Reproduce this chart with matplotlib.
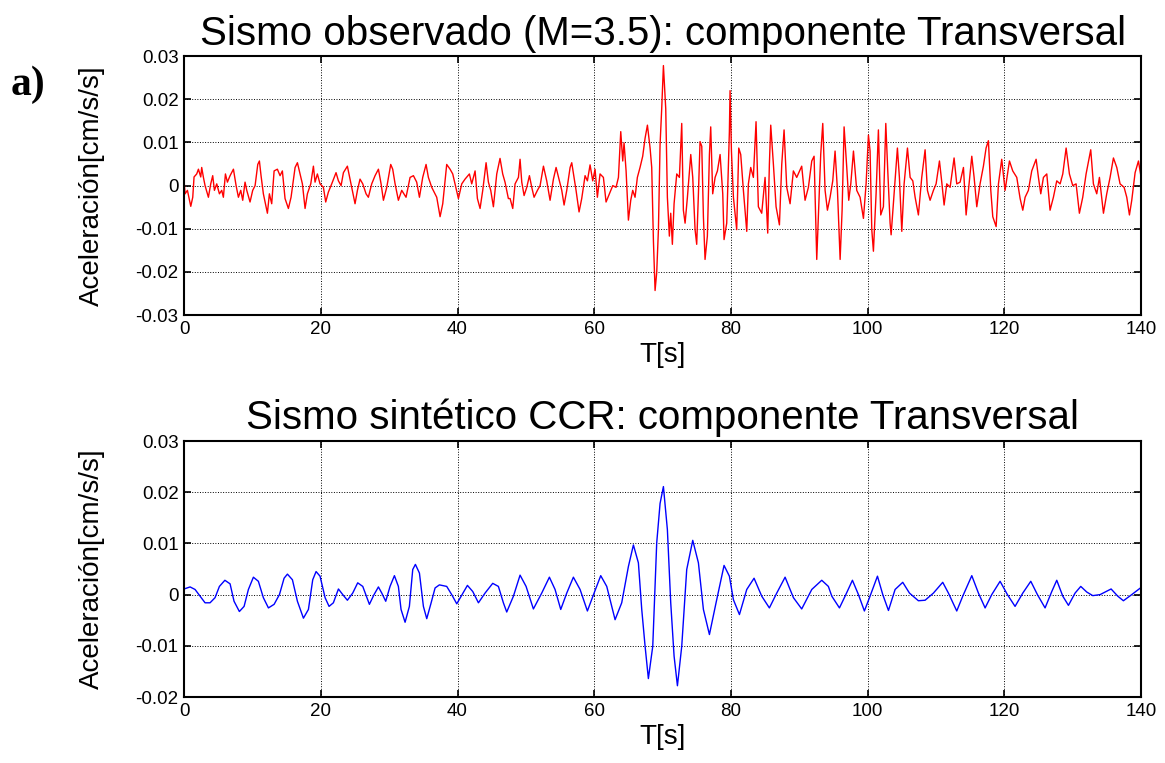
import matplotlib
matplotlib.use("Agg")
import matplotlib.pyplot as plt

# sismo observado (componente transversal)
t_obs = [0.0, 0.15, 0.49, 0.98, 1.27, 1.46, 1.85, 2.10, 2.44, 2.58, 2.83, 3.07, 3.56, 3.90, 4.19, 4.44, 4.78,
         5.17, 5.51, 5.75, 6.05, 6.34, 6.73, 7.22, 7.61, 7.95, 8.29, 8.58, 8.92, 9.17, 9.65, 10.04, 10.39,
         10.78, 11.02, 11.26, 11.60, 12.19, 12.48, 12.82, 13.17, 13.65, 14.04, 14.38, 14.77, 15.26, 15.65,
         16.24, 16.58, 16.97, 17.31, 17.70, 18.04, 18.53, 18.92, 19.16, 19.50, 19.89, 20.38, 20.72, 21.11,
         21.60, 22.23, 22.58, 22.97, 23.31, 23.89, 24.28, 24.67, 25.01, 25.36, 25.74, 26.14, 26.62, 26.96,
         27.45, 27.94, 28.43, 28.82, 29.16, 29.65, 30.23, 30.52, 30.87, 31.35, 31.84, 32.47, 33.06, 33.55,
         34.03, 34.43, 34.91, 35.40, 35.74, 36.23, 36.96, 37.45, 37.84, 38.42, 38.91, 39.30, 39.64, 40.13,
         40.62, 41.10, 41.74, 42.08, 42.57, 42.91, 43.30, 43.69, 44.18, 44.52, 44.86, 45.25, 45.74, 46.22,
         46.61, 46.95, 47.44, 47.69, 48.08, 48.42, 48.91, 49.15, 49.40, 49.74, 50.13, 50.52, 50.86, 51.20,
         51.69, 52.08, 52.57, 53.05, 53.54, 54.03, 54.42, 54.91, 55.25, 55.59, 55.98, 56.47, 56.71, 57.05,
         57.34, 57.78, 58.17, 58.66, 59.00, 59.39, 59.78, 60.12, 60.46, 60.85, 61.34, 61.73, 62.22, 62.71,
         63.19, 63.54, 63.88, 64.17, 64.36, 64.66, 65.00, 65.34, 65.63, 65.97, 66.31, 66.70, 67.09, 67.44,
         67.78, 68.17, 68.41, 68.66, 68.90, 69.14, 69.39, 69.63, 69.87, 70.12, 70.46, 70.70, 70.99, 71.19,
         71.43, 71.68, 72.07, 72.46, 72.80, 73.04, 73.29, 73.63, 74.12, 74.41, 74.75, 74.99, 75.24, 75.48,
         75.73, 75.97, 76.21, 76.55, 76.85, 77.04, 77.33, 77.68, 78.02, 78.41, 78.80, 78.99, 79.38, 79.77,
         79.87, 80.07, 80.36, 80.84, 81.14, 81.43, 81.82, 82.31, 82.55, 82.89, 83.28, 83.67, 84.01, 84.50,
         84.99, 85.38, 85.62, 85.82, 86.21, 86.60, 87.09, 87.43, 87.77, 88.16, 88.65, 89.13, 89.62, 90.35,
         90.84, 91.33, 91.82, 92.16, 92.55, 92.79, 93.13, 93.43, 93.77, 94.11, 94.50, 94.89, 95.23, 95.58,
         95.97, 96.26, 96.55, 96.94, 97.23, 97.53, 97.92, 98.40, 98.89, 99.38, 99.77, 100.11, 100.35, 100.60,
         100.84, 101.23, 101.57, 101.91, 102.30, 102.65, 102.94, 103.28, 103.43, 103.86, 104.35, 104.64,
         104.99, 105.33, 105.82, 106.21, 106.60, 106.94, 107.42, 107.91, 108.40, 108.74, 109.13, 109.62,
         110.01, 110.50, 110.84, 111.18, 111.57, 112.06, 112.64, 113.03, 113.52, 114.01, 114.40, 114.74,
         115.23, 115.57, 115.96, 116.44, 116.93, 117.32, 117.66, 118.01, 118.30, 118.79, 119.13, 119.61,
         120.10, 120.74, 121.22, 121.81, 122.30, 122.69, 123.03, 123.51, 124.00, 124.64, 124.98, 125.32,
         125.71, 126.20, 126.68, 127.17, 127.66, 128.15, 128.54, 129.03, 129.51, 130.00, 130.49, 130.97,
         131.46, 131.95, 132.63, 133.02, 133.51, 133.90, 134.49, 134.97, 135.46, 135.95, 136.44, 136.92,
         137.51, 137.90, 138.29, 138.63, 139.12, 139.61, 140.0]
a_obs = [0.0011, -0.0019, -0.0011, -0.0048, -0.0027, 0.0020, 0.0027, 0.0038, 0.0020, 0.0042, 0.0019, 0.0, -0.0027,
         0.0004, 0.0023, -0.0011, 0.0004, -0.0019, -0.0011, -0.0027, 0.0027, 0.0008, 0.0023, 0.0038, 0.0,
         -0.0027, -0.0011, -0.0034, 0.0008, -0.0011, -0.0038, -0.0011, 0.0, 0.0049, 0.0057, 0.0023, -0.0019,
         -0.0064, -0.0019, -0.0042, 0.0034, 0.0038, 0.0023, 0.0034, -0.0030, -0.0053, -0.0027, 0.0042, 0.0053,
         0.0027, 0.0004, -0.0053, -0.0019, 0.0004, 0.0045, 0.0008, 0.0027, 0.0004, -0.0004, -0.0038, -0.0015,
         0.0004, 0.0030, 0.0011, 0.0, 0.0030, 0.0045, 0.0015, -0.0015, -0.0042, -0.0011, 0.0015, 0.0004,
         -0.0019, -0.0027, 0.0004, 0.0023, 0.0038, 0.0004, -0.0034, -0.0004, 0.0049, 0.0038, 0.0004, -0.0034,
         -0.0011, -0.0027, 0.0019, 0.0023, 0.0008, -0.0027, 0.0019, 0.0049, 0.0019, -0.0004, -0.0027, -0.0072,
         -0.0042, 0.0049, 0.0038, 0.0027, 0.0004, -0.0030, 0.0004, 0.0015, 0.0027, 0.0004, 0.0034, -0.0030,
         -0.0053, -0.0011, 0.0053, 0.0008, -0.0011, -0.0049, 0.0027, 0.0063, 0.0027, 0.0008, -0.0030, -0.0030,
         -0.0053, 0.0004, 0.0019, 0.0061, 0.0008, -0.0023, -0.0004, 0.0023, -0.0004, -0.0027, -0.0011, 0.0,
         0.0045, 0.0011, -0.0034, 0.0015, 0.0042, 0.0011, -0.0011, -0.0045, -0.0011, 0.0042, 0.0053, 0.0019,
         -0.0011, -0.0061, -0.0030, 0.0023, 0.0011, 0.0048, 0.0011, 0.0038, -0.0027, 0.0027, 0.0019, -0.0038,
         -0.0019, 0.0, -0.0004, 0.0019, 0.0125, 0.0057, 0.0099, 0.0034, -0.0080, -0.0034, -0.0011, -0.0027,
         0.0019, 0.0042, 0.0068, 0.0110, 0.0140, 0.0087, 0.0042, -0.0129, -0.0243, -0.0201, -0.0102, 0.0095,
         0.0178, 0.0278, 0.0178, -0.0027, -0.0117, -0.0064, -0.0136, -0.0042, 0.0027, 0.0019, 0.0144, -0.0057,
         -0.0087, -0.0027, 0.0072, 0.0019, -0.0102, -0.0136, -0.0019, 0.0102, 0.0091, -0.0072, -0.0171,
         -0.0117, 0.0072, 0.0136, -0.0019, 0.0019, 0.0034, 0.0072, -0.0019, -0.0125, -0.0087, 0.0125, 0.0220,
         0.0080, -0.0027, -0.0102, 0.0087, 0.0072, -0.0011, -0.0106, 0.0004, 0.0042, 0.0019, 0.0148, -0.0049,
         -0.0064, 0.0019, -0.0110, 0.0049, 0.0140, 0.0049, -0.0049, -0.0091, 0.0049, 0.0129, -0.0004, -0.0042,
         0.0034, 0.0019, 0.0045, -0.0034, -0.0004, 0.0057, 0.0068, -0.0171, -0.0072, 0.0072, 0.0144, -0.0011,
         -0.0057, -0.0027, 0.0011, 0.0080, -0.0011, -0.0171, -0.0057, 0.0136, 0.0042, -0.0034, 0.0004, 0.0080,
         -0.0011, -0.0027, -0.0076, 0.0004, 0.0117, 0.0080, -0.0102, -0.0152, -0.0019, 0.0129, -0.0068,
         -0.0049, 0.0144, 0.0034, -0.0087, -0.0114, -0.0019, 0.0087, 0.0019, -0.0106, 0.0004, 0.0087, 0.0019,
         0.0011, -0.0027, -0.0068, 0.0019, 0.0083, -0.0011, -0.0034, -0.0011, 0.0004, 0.0057, 0.0008, -0.0045,
         0.0004, -0.0004, 0.0064, 0.0004, 0.0008, 0.0042, -0.0068, -0.0011, 0.0068, 0.0019, -0.0049, 0.0004,
         0.0045, 0.0087, 0.0104, -0.0011, -0.0072, -0.0095, 0.0004, 0.0061, -0.0011, 0.0057, 0.0034, 0.0019,
         -0.0030, -0.0057, -0.0027, -0.0011, 0.0034, 0.0061, 0.0019, -0.0019, 0.0019, 0.0027, -0.0057, -0.0027,
         0.0011, 0.0004, 0.0027, 0.0087, 0.0027, 0.0, 0.0004, -0.0064, -0.0027, 0.0027, 0.0083, 0.0004,
         -0.0019, 0.0019, -0.0064, -0.0019, 0.0019, 0.0064, 0.0042, 0.0004, -0.0004, -0.0027, -0.0068, -0.0034,
         0.0030, 0.0057, 0.0019]

# sismo sintetico CCR
t_syn = [0.0, 0.88, 1.61, 2.34, 3.07, 3.80, 4.53, 5.17, 5.97, 6.73, 7.31, 8.09, 8.78, 9.41, 10.14, 10.87,
         11.60, 12.34, 13.17, 13.95, 14.63, 15.12, 15.85, 16.58, 17.46, 18.19, 18.82, 19.31, 19.89, 20.63,
         21.21, 21.84, 22.58, 23.21, 23.89, 24.67, 25.40, 26.14, 27.11, 27.79, 28.43, 28.92, 29.50, 30.13,
         30.77, 31.35, 31.74, 32.33, 32.96, 33.45, 33.84, 34.43, 35.01, 35.50, 36.08, 36.72, 37.35, 38.42,
         39.15, 39.89, 40.76, 41.45, 42.23, 43.06, 44.03, 45.15, 45.98, 46.71, 47.20, 48.18, 49.15, 50.03,
         51.10, 52.32, 53.44, 54.27, 55.10, 55.98, 56.95, 57.93, 59.00, 59.98, 60.95, 61.83, 63.05, 64.02,
         65.00, 65.73, 66.46, 66.95, 67.44, 67.92, 68.56, 69.14, 69.63, 70.12, 70.70, 71.19, 71.68, 72.17,
         72.80, 73.53, 74.41, 75.24, 75.97, 76.85, 77.82, 78.99, 79.77, 80.36, 81.24, 82.31, 83.38, 84.50,
         85.62, 86.70, 87.92, 89.14, 90.35, 91.82, 93.28, 94.25, 94.75, 95.87, 96.70, 97.77, 98.65, 99.52,
         100.35, 101.43, 102.21, 103.04, 104.01, 105.13, 106.11, 107.42, 108.40, 109.62, 110.98, 111.81,
         113.03, 113.91, 115.23, 116.20, 117.18, 118.15, 119.37, 120.44, 121.56, 122.69, 123.86, 124.83,
         125.95, 126.93, 127.66, 128.54, 129.37, 130.34, 131.17, 132.05, 132.93, 134.00, 135.61, 136.58,
         137.41, 138.63, 140.0]
a_syn = [0.0011, 0.0015, 0.0010, -0.0003, -0.0016, -0.0016, -0.0006, 0.0016, 0.0028, 0.0021, -0.0013, -0.0033,
         -0.0023, 0.0010, 0.0034, 0.0026, -0.0006, -0.0026, -0.0019, 0.0, 0.0032, 0.0040, 0.0029, -0.0013,
         -0.0046, -0.0029, 0.0029, 0.0045, 0.0036, -0.0006, -0.0023, -0.0016, 0.0011, 0.0, -0.0011, 0.0003,
         0.0023, 0.0016, -0.0019, 0.0, 0.0015, 0.0003, -0.0013, 0.0016, 0.0037, 0.0016, -0.0029, -0.0054,
         -0.0023, 0.0049, 0.0059, 0.0042, -0.0023, -0.0047, -0.0019, 0.0013, 0.0019, 0.0016, 0.0, -0.0018,
         0.0002, 0.0018, 0.0006, -0.0016, 0.0003, 0.0022, 0.0016, -0.0016, -0.0034, -0.0003, 0.0038, 0.0016,
         -0.0028, 0.0003, 0.0034, 0.0010, -0.0029, 0.0003, 0.0034, 0.0010, -0.0032, 0.0003, 0.0037, 0.0016,
         -0.0049, -0.0016, 0.0055, 0.0097, 0.0062, -0.0029, -0.0101, -0.0164, -0.0101, 0.0101, 0.0178, 0.0211,
         0.0127, -0.0016, -0.0120, -0.0178, -0.0101, 0.0049, 0.0106, 0.0062, -0.0029, -0.0078, -0.0016,
         0.0057, 0.0036, -0.0010, -0.0039, 0.0010, 0.0032, -0.0003, -0.0026, 0.0003, 0.0034, -0.0006, -0.0028,
         0.0010, 0.0028, 0.0016, -0.0003, -0.0026, -0.0003, 0.0028, 0.0, -0.0032, -0.0003, 0.0036, 0.0,
         -0.0031, 0.0010, 0.0024, 0.0003, -0.0012, -0.0011, 0.0003, 0.0024, 0.0003, -0.0032, -0.0003, 0.0037,
         0.0003, -0.0026, 0.0, 0.0026, 0.0, -0.0023, 0.0003, 0.0026, 0.0, -0.0026, 0.0006, 0.0028, -0.0003,
         -0.0021, 0.0003, 0.0016, 0.0005, -0.0002, 0.0, 0.0011, -0.0003, -0.0012, 0.0, 0.0014]

xticks = [0, 20, 40, 60, 80, 100, 120, 140]
yticks_obs = [-0.03, -0.02, -0.01, 0, 0.01, 0.02, 0.03]
yticks_syn = [-0.02, -0.01, 0, 0.01, 0.02, 0.03]
ylabels_obs = ['-0.03', '-0.02', '-0.01', '0', '0.01', '0.02', '0.03']
ylabels_syn = ['-0.02', '-0.01', '0', '0.01', '0.02', '0.03']


def style(ax, yticks, ylabels, ylim):
    ax.set_xlim(0, 140)
    ax.set_ylim(*ylim)
    ax.set_xticks(xticks)
    ax.set_xticklabels([str(x) for x in xticks], fontsize=13.5)
    ax.set_yticks(yticks)
    ax.set_yticklabels(ylabels, fontsize=13.5)
    ax.grid(True, linestyle=':', color='k', linewidth=0.7)
    ax.tick_params(direction='in', top=True, right=True, length=5, width=1.2, pad=4)
    for s in ax.spines.values():
        s.set_linewidth(1.5)
    ax.set_xlabel('T[s]', fontsize=20, labelpad=3)
    ax.set_ylabel('Aceleración[cm/s/s]', fontsize=20, labelpad=22)


plt.rcParams['font.family'] = ['Liberation Sans', 'DejaVu Sans']
plt.rcParams['axes.unicode_minus'] = False

fig = plt.figure(figsize=(11.65, 7.63), dpi=100)
ax1 = fig.add_axes([0.158, 0.587, 0.8215, 0.3395])
ax2 = fig.add_axes([0.158, 0.0865, 0.8215, 0.3355])

ax1.plot(t_obs, a_obs, color='red', linewidth=1.0)
style(ax1, yticks_obs, ylabels_obs, (-0.03, 0.03))
ax1.set_title('Sismo observado (M=3.5): componente Transversal', fontsize=29, pad=8)

ax2.plot(t_syn, a_syn, color='blue', linewidth=1.0)
style(ax2, yticks_syn, ylabels_syn, (-0.02, 0.03))
ax2.set_title('Sismo sintético CCR: componente Transversal', fontsize=29, pad=9)

fig.text(0.009, 0.875, 'a)', fontsize=30, fontweight='bold', family='Liberation Serif')

fig.savefig('out.png', dpi=100)
